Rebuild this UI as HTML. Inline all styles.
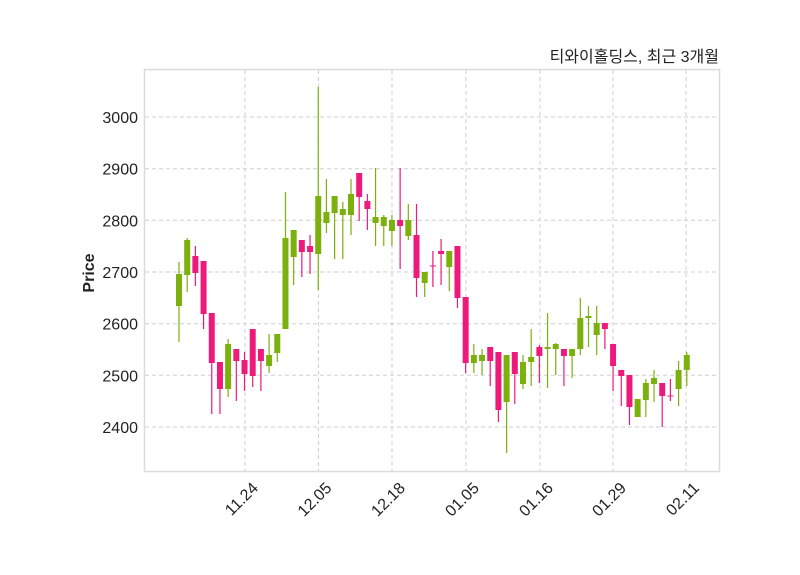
<!DOCTYPE html>
<html><head><meta charset="utf-8"><style>
body{margin:0;background:#fff;}
svg{display:block;font-family:"Liberation Sans","Noto Sans CJK KR",sans-serif;}
</style></head><body>
<svg id="s" width="800" height="575" viewBox="0 0 800 575" xmlns="http://www.w3.org/2000/svg">
<rect x="0" y="0" width="800" height="575" fill="#fff"/>
<g stroke="#cfcfcf" stroke-width="1" stroke-dasharray="4,3">
<line x1="145" x2="719" y1="117" y2="117"/><line x1="145" x2="719" y1="168.7" y2="168.7"/>
<line x1="145" x2="719" y1="220.3" y2="220.3"/><line x1="145" x2="719" y1="272" y2="272"/>
<line x1="145" x2="719" y1="323.7" y2="323.7"/><line x1="145" x2="719" y1="375.3" y2="375.3"/>
<line x1="145" x2="719" y1="427" y2="427"/>
<line y1="70" y2="471" x1="245" x2="245"/><line y1="70" y2="471" x1="318.5" x2="318.5"/>
<line y1="70" y2="471" x1="392" x2="392"/><line y1="70" y2="471" x1="466" x2="466"/>
<line y1="70" y2="471" x1="540" x2="540"/><line y1="70" y2="471" x1="613" x2="613"/>
<line y1="70" y2="471" x1="686" x2="686"/>
</g>
<g id="c"></g>
<rect x="144.5" y="69.5" width="575" height="402" fill="none" stroke="#dcdcdc" stroke-width="1.5"/>
<g font-size="16" fill="#222" text-anchor="end">
<text x="138" y="123">3000</text><text x="138" y="174.7">2900</text><text x="138" y="226.3">2800</text>
<text x="138" y="278">2700</text><text x="138" y="329.7">2600</text><text x="138" y="381.3">2500</text>
<text x="138" y="433">2400</text>
</g>
<g font-size="16" fill="#222" text-anchor="end">
<text transform="translate(259,489) rotate(-45)">11.24</text>
<text transform="translate(332.5,489) rotate(-45)">12.05</text>
<text transform="translate(406,489) rotate(-45)">12.18</text>
<text transform="translate(480,489) rotate(-45)">01.05</text>
<text transform="translate(554,489) rotate(-45)">01.16</text>
<text transform="translate(627,489) rotate(-45)">01.29</text>
<text transform="translate(700,489) rotate(-45)">02.11</text>
</g>
<text transform="translate(94,273) rotate(-90)" font-size="16" font-weight="bold" fill="#222" text-anchor="middle">Price</text>
<text x="719" y="62" font-size="16" fill="#222" text-anchor="end">티와이홀딩스, 최근 3개월</text>
</svg>
<script>
var d=[
[1,274,306,262,342],[1,240,275,238,292],[0,256,273,246,286],[0,261,314,261,329],[0,313,363,313,414],
[0,362,389,362,414],[1,344,389,339,397],[0,349,361,349,401],[0,360,374,352,391],[0,329,376,329,387],
[0,349,361,349,391],[1,355,366,334,373],[1,334,353,334,362],[1,238,329,192,329],[1,230,257,230,285],
[0,240,252,240,277],[0,246,252,235,274],[1,196,254,87,290],[1,212,223,179,233],[1,196,213,196,259],
[1,209,215,202,259],[1,194,215,179,235],[0,173,197,173,221],[0,201,209,194,230],[1,217,223,168,246],
[1,217,226,215,246],[1,220,231,215,246],[0,220,226,168,269],[1,220,236,204,240],[0,235,278,204,297],
[1,272,283,272,297],[0,265.5,266.5,251,287],[0,251,254,239,285],[1,251,267,251,291],[0,246,298,246,308],
[0,297,363,297,373],[1,355,363,344,373],[1,355,361,349,375],[0,347,361,347,386],[0,352,410,352,422],
[1,355,402,355,453],[0,352,374,352,404],[1,362,384,355,389],[1,357,362,329,386],[0,347,356,345,383],
[1,347,349,313,388],[1,344,349,343,375],[0,349,356,349,386],[1,349,356,349,378],[1,318,349,298,355],
[1,316,318,306,347],[1,323,335,306,355],[0,323,329,323,349],[0,344,366,344,391],[0,370,376,370,406],
[0,375,407,375,425],[1,399,417,399,417],[1,383,400,379,417],[1,378,384,370,402],[0,383,396,383,427],
[0,395.5,396.5,379,401],[1,370,389,361,406],[1,355,370,352,386]];
var g=document.getElementById('c'),h='';
d.forEach(function(c,i){var x=179+i*8.19,col=c[0]?'#7cb00c':'#ee1a7b';
h+='<line x1="'+x+'" x2="'+x+'" y1="'+c[3]+'" y2="'+c[4]+'" stroke="'+col+'" stroke-width="1.2"/>';
h+='<rect x="'+(x-3)+'" y="'+c[1]+'" width="6" height="'+Math.max(1,c[2]-c[1])+'" fill="'+col+'"/>';});
g.innerHTML=h;
</script>
</body></html>
